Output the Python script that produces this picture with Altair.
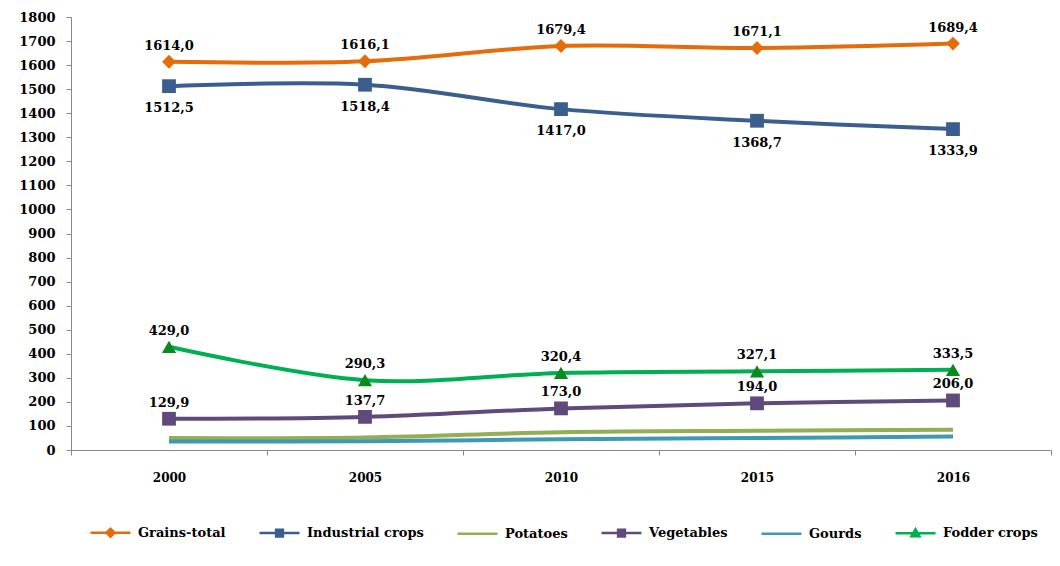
import altair as alt
import pandas as pd

years = ["2000", "2005", "2010", "2015", "2016"]
series = ["Grains-total", "Industrial crops", "Potatoes", "Vegetables", "Gourds", "Fodder crops"]
grains = [1614.0, 1616.1, 1679.4, 1671.1, 1689.4]
industrial = [1512.5, 1518.4, 1417.0, 1368.7, 1333.9]
potatoes = [50.0, 52.0, 74.0, 80.0, 84.0]
vegetables = [129.9, 137.7, 173.0, 194.0, 206.0]
gourds = [35.0, 36.0, 45.0, 50.0, 56.0]
fodder = [429.0, 290.3, 320.4, 327.1, 333.5]
y_ticks = list(range(0, 1801, 100))

colors = ["#E46C0A", "#3A5F8F", "#93AE54", "#604A7B", "#3E9AB3", "#00B050"]
legend_paths = [
    "M-1,0H1M-0.2,0L0,-0.2L0.2,0L0,0.2Z",
    "M-1,0H1M-0.17,-0.17H0.17V0.17H-0.17Z",
    "M-1,0H1",
    "M-1,0H1M-0.17,-0.17H0.17V0.17H-0.17Z",
    "M-1,0H1",
    "M-1,0H1M0,-0.2L0.2,0.15L-0.2,0.15Z",
]

values = [grains, industrial, potatoes, vegetables, gourds, fodder]
rows = []
for s, vals in zip(series, values):
    for yr, v in zip(years, vals):
        rows.append({"year": yr, "series": s, "value": v})
df = pd.DataFrame(rows)

FONT = "DejaVu Serif"

x_enc = alt.X(
    "year:N",
    sort=years,
    scale=alt.Scale(type="band", paddingInner=0, paddingOuter=0),
    axis=alt.Axis(
        title=None, labelAngle=0, tickBand="extent", tickSize=5, labelPadding=17,
        domainColor="#888888", tickColor="#888888", labelFont=FONT, labelFontSize=12,
        labelFontWeight="bold", labelColor="#000000",
    ),
)
y_enc = alt.Y(
    "value:Q",
    scale=alt.Scale(domain=[0, 1800], nice=False),
    axis=alt.Axis(
        title=None, values=y_ticks, format="d", grid=False, tickSize=5, labelPadding=11,
        domainColor="#888888", tickColor="#888888", labelFont=FONT, labelFontSize=13,
        labelFontWeight="bold", labelColor="#000000",
    ),
)
color_scale = alt.Scale(domain=series, range=colors)
color_nolegend = alt.Color("series:N", scale=color_scale, legend=None)

base = alt.Chart(df)

leg = alt.Legend(
    title=None,
    orient="none",
    legendX=18,
    legendY=494,
    direction="horizontal",
    columns=6,
    symbolSize=1600,
    symbolStrokeWidth=2.5,
    symbolOpacity=1,
    labelOffset=6,
    columnPadding=28,
    labelFont=FONT,
    labelFontSize=13,
    labelFontWeight="bold",
    labelColor="#000000",
    labelLimit=300,
)

legend_layer = base.mark_point(opacity=0).encode(
    x=x_enc,
    y=y_enc,
    fill=alt.Fill("series:N", scale=alt.Scale(domain=series, range=colors), legend=leg),
    stroke=alt.Stroke("series:N", scale=alt.Scale(domain=series, range=colors), legend=leg),
    shape=alt.Shape("series:N", scale=alt.Scale(domain=series, range=legend_paths), legend=leg),
)

lines = base.mark_line(strokeWidth=4, interpolate="catmull-rom").encode(
    x=x_enc, y=y_enc, color=color_nolegend, detail="series:N"
)

diamonds = base.transform_filter(alt.datum.series == "Grains-total").mark_point(
    shape="diamond", filled=True, size=190, opacity=1
).encode(x=x_enc, y=y_enc, color=color_nolegend)

squares = base.transform_filter(
    alt.FieldOneOfPredicate(field="series", oneOf=["Industrial crops", "Vegetables"])
).mark_point(shape="square", filled=True, size=190, opacity=1).encode(
    x=x_enc, y=y_enc, color=color_nolegend
)

triangles = base.transform_filter(alt.datum.series == "Fodder crops").mark_point(
    shape="triangle-up", filled=True, size=200, opacity=1, color="#0A8A1E"
).encode(x=x_enc, y=y_enc)

label_base = base.transform_calculate(
    lbl="replace(format(datum.value, '.1f'), '.', ',')"
)
labels_above = label_base.transform_filter(
    alt.FieldOneOfPredicate(field="series", oneOf=["Grains-total", "Fodder crops", "Vegetables"])
).mark_text(dy=-16, font=FONT, fontSize=13, fontWeight="bold", color="#000000").encode(
    x=x_enc, y=y_enc, text="lbl:N"
)
labels_below = label_base.transform_filter(
    alt.datum.series == "Industrial crops"
).mark_text(dy=22, font=FONT, fontSize=13, fontWeight="bold", color="#000000").encode(
    x=x_enc, y=y_enc, text="lbl:N"
)

chart = alt.layer(
    legend_layer, lines, diamonds, squares, triangles, labels_above, labels_below
).properties(
    width=980,
    height=433,
    autosize=alt.AutoSizeParams(type="none"),
    padding={"left": 63, "top": 9, "right": 1, "bottom": 108},
).configure_view(stroke=None)

chart.save("out.html", embed_options={"renderer": "svg", "actions": False})
